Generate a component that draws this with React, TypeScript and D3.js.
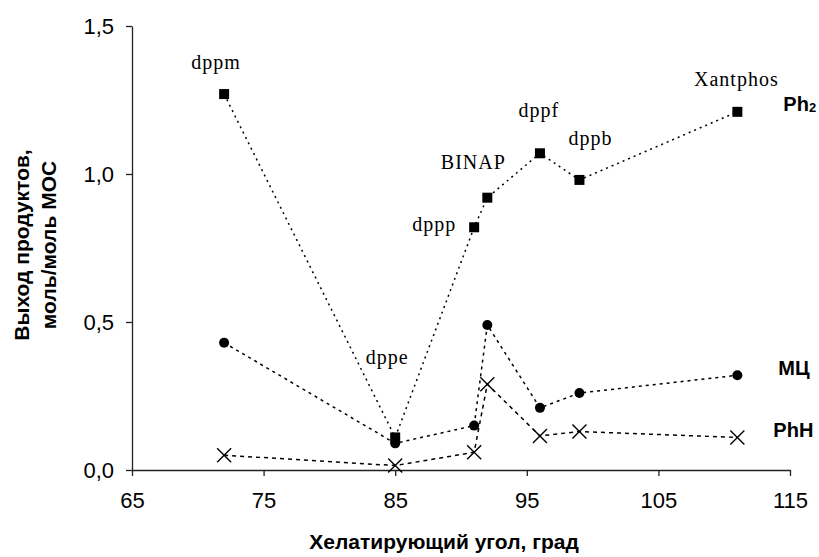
import { useEffect, useRef } from 'react';
import * as d3 from 'd3';

// bite angle, deg
const angles = [72, 85, 91, 92, 96, 99, 111];
const ligands = ['dppm', 'dppe', 'dppp', 'BINAP', 'dppf', 'dppb', 'Xantphos'];
const ph2Values = [1.27, 0.11, 0.82, 0.92, 1.07, 0.98, 1.21];
const mcValues = [0.43, 0.09, 0.15, 0.49, 0.21, 0.26, 0.32];
const phhValues = [0.05, 0.015, 0.06, 0.29, 0.115, 0.13, 0.11];
const xTicks = [65, 75, 85, 95, 105, 115];
const yTicks = [0, 0.5, 1.0, 1.5];

// label nudges around the Ph2 points (px)
const labelOffsets: [number, number, string][] = [
  [-8, -25, 'middle'],
  [-8, -73, 'middle'],
  [-18, 4, 'end'],
  [-14, -29, 'middle'],
  [-1, -36, 'middle'],
  [11, -35, 'middle'],
  [-1, -26, 'middle'],
];

const W = 819;
const H = 557;
const margin = { top: 26, right: 29, bottom: 87, left: 132 };
const SANS = 'Liberation Sans, Arial, sans-serif';

const draw = (node: SVGSVGElement) => {
  const svg = d3.select(node);
  svg.selectAll('*').remove();

  const x = d3.scaleLinear().domain([65, 115]).range([margin.left, W - margin.right]);
  const y = d3.scaleLinear().domain([0, 1.5]).range([H - margin.bottom, margin.top]);
  const fmt = (v: number) => d3.format('.1f')(v).replace('.', ',');

  // axes
  const xAxis = svg.append('g')
    .attr('transform', `translate(0,${y(0)})`)
    .call(d3.axisBottom(x).tickValues(xTicks).tickSize(6).tickSizeOuter(0).tickFormat(d => String(d)));
  const yAxis = svg.append('g')
    .attr('transform', `translate(${x(65)},0)`)
    .call(d3.axisLeft(y).tickValues(yTicks).tickSize(6).tickSizeOuter(0).tickFormat(d => fmt(+d)));

  [xAxis, yAxis].forEach(a => {
    a.select('.domain').attr('stroke', '#222').attr('stroke-width', 1.3);
    a.selectAll('.tick line').attr('stroke', '#222').attr('stroke-width', 1.3);
    a.selectAll('.tick text')
      .attr('font-family', SANS)
      .attr('font-size', 22)
      .attr('fill', '#000');
  });
  xAxis.selectAll('.tick text').attr('y', 0).attr('dy', 38);
  yAxis.selectAll('.tick text').attr('x', -18).attr('dy', '0.36em');

  // axis titles
  svg.append('text')
    .attr('x', 444)
    .attr('y', 549)
    .attr('text-anchor', 'middle')
    .attr('font-family', SANS)
    .attr('font-weight', 'bold')
    .attr('font-size', 21)
    .text('Хелатирующий угол, град');

  const yt = svg.append('text')
    .attr('transform', `translate(0,245) rotate(-90)`)
    .attr('text-anchor', 'middle')
    .attr('font-family', SANS)
    .attr('font-weight', 'bold')
    .attr('font-size', 21);
  yt.append('tspan').attr('x', 0).attr('y', 29).text('Выход продуктов,');
  yt.append('tspan').attr('x', 0).attr('y', 56).text('моль/моль МОС');

  const series = [
    { vals: ph2Values, dash: '2 4', marker: 'square' },
    { vals: mcValues, dash: '3 4', marker: 'circle' },
    { vals: phhValues, dash: '4 4', marker: 'cross' },
  ];

  series.forEach(s => {
    const pts = angles.map((a, i) => [x(a), y(s.vals[i])] as [number, number]);
    svg.append('path')
      .attr('d', d3.line()(pts))
      .attr('fill', 'none')
      .attr('stroke', '#000')
      .attr('stroke-width', 1.5)
      .attr('stroke-dasharray', s.dash);

    const g = svg.append('g');
    if (s.marker === 'square') {
      g.selectAll('rect').data(pts).enter().append('rect')
        .attr('x', d => d[0] - 5).attr('y', d => d[1] - 5)
        .attr('width', 10).attr('height', 10).attr('fill', '#000');
    } else if (s.marker === 'circle') {
      g.selectAll('circle').data(pts).enter().append('circle')
        .attr('cx', d => d[0]).attr('cy', d => d[1]).attr('r', 5).attr('fill', '#000');
    } else {
      const sym = d3.symbol().type(d3.symbolX).size(130);
      g.selectAll('path').data(pts).enter().append('path')
        .attr('transform', d => `translate(${d[0]},${d[1]})`)
        .attr('d', sym())
        .attr('fill', 'none').attr('stroke', '#000').attr('stroke-width', 1.4);
    }
  });

  // ligand labels
  svg.append('g').selectAll('text').data(ligands).enter().append('text')
    .attr('x', (d, i) => x(angles[i]) + labelOffsets[i][0])
    .attr('y', (d, i) => y(ph2Values[i]) + labelOffsets[i][1])
    .attr('text-anchor', (d, i) => labelOffsets[i][2])
    .attr('font-family', 'Liberation Serif, Times New Roman, serif')
    .attr('font-size', 20)
    .attr('letter-spacing', 1)
    .text(d => d);

  // series labels
  const lab = (t: string, v: number, dx: number, dy: number) => svg.append('text')
    .attr('x', x(111) + dx)
    .attr('y', y(v) + dy)
    .attr('font-family', SANS)
    .attr('font-weight', 'bold')
    .attr('font-size', 20)
    .text(t);
  const ph2 = lab('Ph', ph2Values[6], 46, -1);
  ph2.append('tspan').attr('font-size', 13).attr('dy', 1).text('2');
  lab('МЦ', mcValues[6], 41, 0);
  lab('PhH', phhValues[6], 36, 0);
};

const App = () => {
  const ref = useRef<SVGSVGElement>(null);
  useEffect(() => {
    if (ref.current) draw(ref.current);
  }, []);
  return (
    <svg ref={ref} width={W} height={H}
      style={{ position: 'absolute', left: 0, top: 0, background: '#fff' }} />
  );
};

export default App;
